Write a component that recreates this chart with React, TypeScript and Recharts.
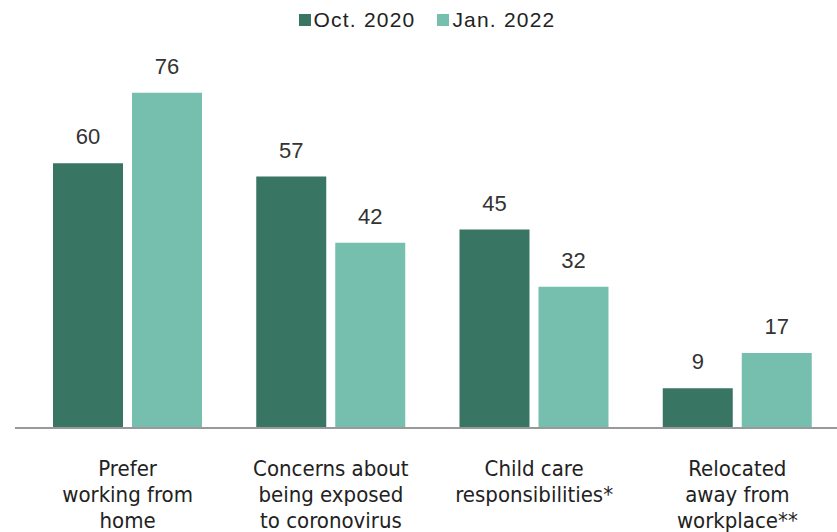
import { Bar, BarChart, XAxis, YAxis, Legend, LabelList } from "recharts"

const categories = [
  "Prefer|working from|home",
  "Concerns about|being exposed|to coronovirus",
  "Child care|responsibilities*",
  "Relocated|away from|workplace**",
]
const oct2020 = [60, 57, 45, 9]
const jan2022 = [76, 42, 32, 17]

const data = categories.map((name, i) => ({ name, oct: oct2020[i], jan: jan2022[i] }))

const DARK = "#387563"
const LIGHT = "#76bfae"

const CategoryTick = (props: any) => {
  const { x, y, payload } = props
  const lines = String(payload.value).split("|")
  return (
    <text
      x={x}
      y={y + 40}
      textAnchor="middle"
      fill="#222"
      fontSize={22}
      fontFamily="'Liberation Sans Narrow', 'DejaVu Sans Condensed', sans-serif"
    >
      {lines.map((l, i) => (
        <tspan key={i} x={x} dy={i === 0 ? 0 : 26}>
          {l}
        </tspan>
      ))}
    </text>
  )
}

const LegendContent = () => (
  <div
    style={{
      display: "flex",
      justifyContent: "center",
      alignItems: "center",
      gap: 22,
      fontFamily: "'Liberation Sans', Arial, sans-serif",
      fontSize: 21,
      letterSpacing: 1.2,
      color: "#222",
    }}
  >
    {[
      { label: "Oct. 2020", color: DARK },
      { label: "Jan. 2022", color: LIGHT },
    ].map((it) => (
      <span key={it.label} style={{ display: "flex", alignItems: "center" }}>
        <span style={{ width: 12, height: 12, background: it.color, marginRight: 3 }} />
        {it.label}
      </span>
    ))}
  </div>
)

export default function App() {
  return (
    <div style={{ position: "absolute", left: 0, top: 0, width: 837, height: 532, overflow: "hidden", background: "#fff" }}>
      <BarChart
        width={845}
        height={532}
        data={data}
        margin={{ top: 0, right: 6, bottom: 0, left: 15 }}
        barCategoryGap={27}
        barGap={9}
      >
        <Legend verticalAlign="top" height={31} content={<LegendContent />} wrapperStyle={{ top: 8 }} />
        <XAxis
          dataKey="name"
          height={104}
          tickLine={false}
          axisLine={{ stroke: "#999", strokeWidth: 2 }}
          padding={{ left: 11, right: 0 }}
          tick={<CategoryTick />}
          interval={0}
        />
        <YAxis hide domain={[0, 90]} />
        <Bar dataKey="oct" fill={DARK} barSize={70} isAnimationActive={false}>
          <LabelList dataKey="oct" position="top" offset={19} fill="#333" fontSize={22} fontFamily="'Liberation Sans', Arial, sans-serif" />
        </Bar>
        <Bar dataKey="jan" fill={LIGHT} barSize={70} isAnimationActive={false}>
          <LabelList dataKey="jan" position="top" offset={19} fill="#333" fontSize={22} fontFamily="'Liberation Sans', Arial, sans-serif" />
        </Bar>
      </BarChart>
    </div>
  )
}
